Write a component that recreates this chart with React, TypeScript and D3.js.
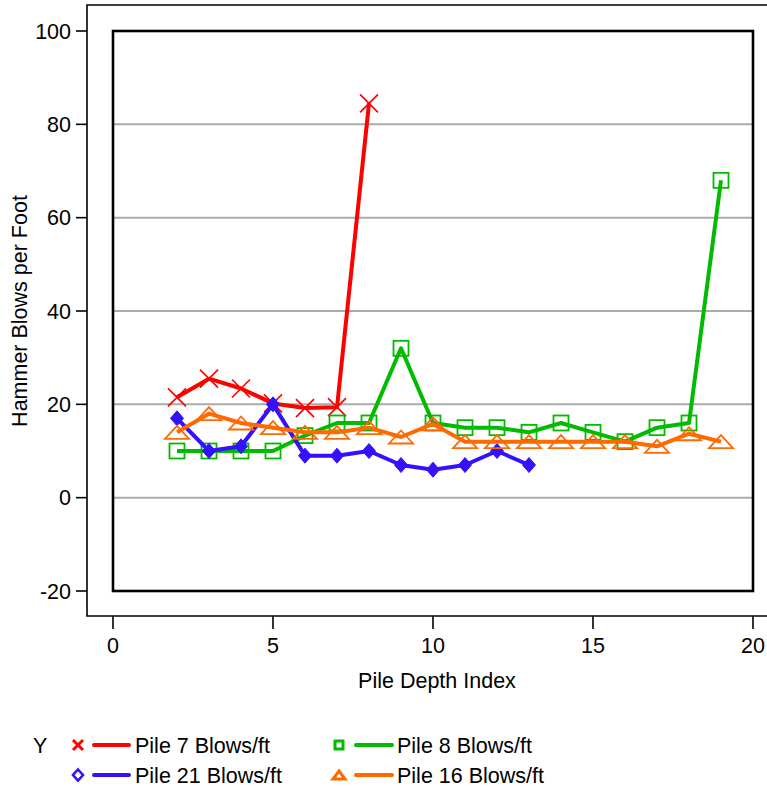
import React from "react";
import * as d3 from "d3";

// Depth index values per pile
const pile7X = [2, 3, 4, 5, 6, 7, 8];
const pile7Y = [21.5, 25.5, 23.4, 20.2, 19.2, 19.4, 84.5];

const pile8X = [2, 3, 4, 5, 6, 7, 8, 9, 10, 11, 12, 13, 14, 15, 16, 17, 18, 19];
const pile8Y = [10, 10, 10, 10, 13.3, 16, 16, 32, 16, 15, 15, 14, 16, 14, 12, 15, 16, 68];

const pile21X = [2, 3, 4, 5, 6, 7, 8, 9, 10, 11, 12, 13];
const pile21Y = [17, 10, 11, 20, 9, 9, 10, 7, 6, 7, 10, 7];

const pile16X = [2, 3, 4, 5, 6, 7, 8, 9, 10, 11, 12, 13, 14, 15, 16, 17, 18, 19];
const pile16Y = [14, 18, 16, 15, 14, 14, 15, 13, 15.8, 12, 12, 12, 12, 12, 12, 11, 13.7, 12];

const xTicks = [0, 5, 10, 15, 20];
const yTicks = [-20, 0, 20, 40, 60, 80, 100];
const gridValues = [0, 20, 40, 60, 80];

const W = 767;
const H = 791;
const FONT = "'Liberation Sans', Arial, Helvetica, sans-serif";
const FS = 21.5;

type Shape = "x" | "diamond" | "square" | "triangle";

interface Series {
  name: string;
  xs: number[];
  ys: number[];
  color: string;
  shape: Shape;
}

const series: Series[] = [
  { name: "Pile 7 Blows/ft", xs: pile7X, ys: pile7Y, color: "#ff0000", shape: "x" },
  { name: "Pile 8 Blows/ft", xs: pile8X, ys: pile8Y, color: "#00bb00", shape: "square" },
  { name: "Pile 21 Blows/ft", xs: pile21X, ys: pile21Y, color: "#3311ff", shape: "diamond" },
  { name: "Pile 16 Blows/ft", xs: pile16X, ys: pile16Y, color: "#ff6a00", shape: "triangle" },
];

function Marker({ shape, cx, cy, color, small }: { shape: Shape; cx: number; cy: number; color: string; small?: boolean }) {
  if (shape === "x") {
    const r = small ? 5 : 9;
    return (
      <path
        d={`M${cx - r},${cy - r}L${cx + r},${cy + r}M${cx - r},${cy + r}L${cx + r},${cy - r}`}
        stroke={color}
        strokeWidth={small ? 3 : 1.6}
        fill="none"
      />
    );
  }
  if (shape === "diamond") {
    if (small) {
      return (
        <path
          d={`M${cx},${cy - 5.5}L${cx + 5},${cy}L${cx},${cy + 5.5}L${cx - 5},${cy}Z`}
          stroke={color}
          strokeWidth={2.6}
          fill="#fff"
        />
      );
    }
    return (
      <path
        d={`M${cx},${cy - 7.5}L${cx + 6.5},${cy}L${cx},${cy + 7.5}L${cx - 6.5},${cy}Z`}
        fill={color}
        stroke={color}
        strokeWidth={1}
      />
    );
  }
  if (shape === "square") {
    const h = small ? 4 : 7.5;
    return (
      <rect
        x={cx - h}
        y={cy - h}
        width={2 * h}
        height={2 * h}
        fill="none"
        stroke={color}
        strokeWidth={small ? 3 : 1.8}
      />
    );
  }
  // triangle
  const hw = small ? 6 : 12;
  const hh = small ? 4 : 6.5;
  return (
    <path
      d={`M${cx},${cy - hh}L${cx + hw},${cy + hh}L${cx - hw},${cy + hh}Z`}
      fill="none"
      stroke={color}
      strokeWidth={small ? 3 : 1.8}
      strokeLinejoin="miter"
    />
  );
}

export default function App() {
  // Plot box and outer frame
  const box = { left: 113, right: 753, top: 31, bottom: 591 };
  const frame = { left: 87, top: 5, bottom: 616 };

  const x = d3.scaleLinear().domain([0, 20]).range([box.left, box.right]);
  const y = d3.scaleLinear().domain([-20, 100]).range([box.bottom, box.top]);

  const line = d3
    .line<[number, number]>()
    .x((d) => x(d[0]))
    .y((d) => y(d[1]));

  const legendRows = [
    { s: series[0], mx: 78, lx0: 94, lx1: 129, tx: 135, cy: 745 },
    { s: series[1], mx: 339, lx0: 356, lx1: 392, tx: 397, cy: 745 },
    { s: series[2], mx: 78, lx0: 94, lx1: 129, tx: 135, cy: 775 },
    { s: series[3], mx: 339, lx0: 356, lx1: 392, tx: 397, cy: 775 },
  ];

  return (
    <svg
      width={W}
      height={H}
      style={{ position: "absolute", left: 0, top: 0, background: "#fff" }}
      fontFamily={FONT}
    >
      <rect x={0} y={0} width={W} height={H} fill="#fff" />

      {/* outer frame */}
      <path
        d={`M${W + 5},${frame.top}H${frame.left}V${frame.bottom}H${W + 5}`}
        fill="none"
        stroke="#000"
        strokeWidth={1.6}
      />

      {/* gridlines */}
      {gridValues.map((v) => (
        <line key={v} x1={box.left} x2={box.right} y1={y(v)} y2={y(v)} stroke="#aaaaaa" strokeWidth={2} />
      ))}

      {/* plot box */}
      <rect
        x={box.left}
        y={box.top}
        width={box.right - box.left}
        height={box.bottom - box.top}
        fill="none"
        stroke="#000"
        strokeWidth={2.6}
      />

      {/* y axis */}
      {yTicks.map((v) => (
        <g key={v}>
          <line x1={frame.left - 11} x2={frame.left} y1={y(v)} y2={y(v)} stroke="#000" strokeWidth={1.6} />
          <text x={frame.left - 16} y={y(v)} dy="0.35em" textAnchor="end" fontSize={FS} fill="#000">
            {v}
          </text>
        </g>
      ))}
      <text
        transform={`translate(27,${(box.top + box.bottom) / 2}) rotate(-90)`}
        textAnchor="middle"
        fontSize={FS}
        fill="#000"
      >
        Hammer Blows per Foot
      </text>

      {/* x axis */}
      {xTicks.map((v) => (
        <g key={v}>
          <line x1={x(v)} x2={x(v)} y1={frame.bottom} y2={frame.bottom + 13} stroke="#000" strokeWidth={1.6} />
          <text x={x(v)} y={frame.bottom + 29} dy="0.35em" textAnchor="middle" fontSize={FS} fill="#000">
            {v}
          </text>
        </g>
      ))}
      <text x={(box.left + box.right) / 2 + 4} y={688} textAnchor="middle" fontSize={FS} fill="#000">
        Pile Depth Index
      </text>

      {/* series */}
      {series.map((s) => {
        const pts: [number, number][] = s.xs.map((xv, i) => [xv, s.ys[i]]);
        return (
          <g key={s.name}>
            <path d={line(pts) || ""} fill="none" stroke={s.color} strokeWidth={4} strokeLinejoin="round" />
            {pts.map((p, i) => (
              <Marker key={i} shape={s.shape} cx={x(p[0])} cy={y(p[1])} color={s.color} />
            ))}
          </g>
        );
      })}

      {/* legend */}
      <text x={33} y={745} dy="0.35em" fontSize={FS} fill="#000">
        Y
      </text>
      {legendRows.map((r) => (
        <g key={r.s.name}>
          <Marker shape={r.s.shape} cx={r.mx} cy={r.cy} color={r.s.color} small />
          <line x1={r.lx0} x2={r.lx1} y1={r.cy} y2={r.cy} stroke={r.s.color} strokeWidth={4} strokeLinecap="round" />
          <text x={r.tx} y={r.cy} dy="0.35em" fontSize={FS} fill="#000">
            {r.s.name}
          </text>
        </g>
      ))}
    </svg>
  );
}
